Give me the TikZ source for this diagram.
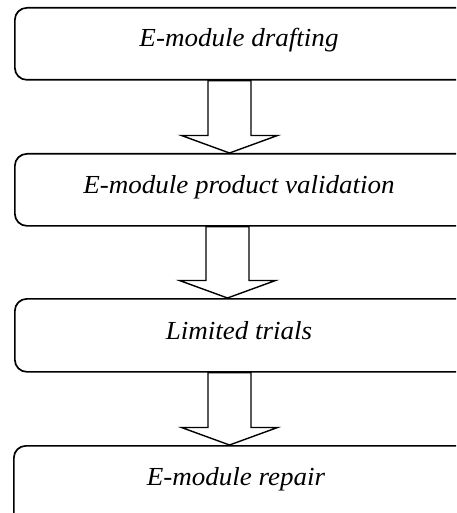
\documentclass[tikz,border=0pt]{standalone}
\usepackage{fontspec}
\setmainfont[FakeStretch=1.04]{Liberation Serif}
\usetikzlibrary{calc}
\newcommand{\blockarr}[2]{%
  \draw[blockarrow] let \p1=(#1), \p2=(#2) in
    (\x1-21.5pt,\y1) -- (\x1-21.5pt,\y2+17.5pt) -- (\x1-48pt,\y2+17.5pt) --
    (\x1,\y2) -- (\x1+48pt,\y2+17.5pt) -- (\x1+21.5pt,\y2+17.5pt) --
    (\x1+21.5pt,\y1) -- cycle;}
\begin{document}
\begin{tikzpicture}[x=1pt,y=-1pt,
  box/.style={draw, line width=1.7pt, rounded corners=12pt, minimum width=470pt,
    minimum height=#1, inner sep=0pt, anchor=north west},
  lbl/.style={anchor=base, inner sep=0pt, font=\fontsize{26}{26}\selectfont\itshape},
  blockarrow/.style={draw, line width=1.4pt, fill=white, line join=miter}]
\useasboundingbox (0,0) rectangle (456,513);
\clip (0,0) rectangle (456,513);
\fill[white] (0,0) rectangle (456,513);
\node[box=72pt] (b1) at (14,7) {};
\node[box=72pt] (b2) at (14,153) {};
\node[box=73pt] (b3) at (14,298) {};
\node[box=90pt] (b4) at (13,445) {};
\node[lbl] (t1) at (239,46.7) {E-module drafting};
\node[lbl] (t2) at (239,193.3) {E-module product validation};
\node[lbl] (t3) at (239,339.3) {Limited trials};
\node[lbl] (t4) at (236,485) {E-module repair};
\coordinate (c1) at (229.5,0);
\coordinate (c2) at (227.5,0);
\coordinate (c3) at (229.5,0);
\coordinate (d1) at (229.5,150);
\coordinate (d2) at (227.5,296);
\coordinate (d3) at (229.5,441);
\blockarr{b1.south -| c1}{b2.north -| d1}
\blockarr{b2.south -| c2}{b3.north -| d2}
\blockarr{b3.south -| c3}{b4.north -| d3}
\end{tikzpicture}
\end{document}
